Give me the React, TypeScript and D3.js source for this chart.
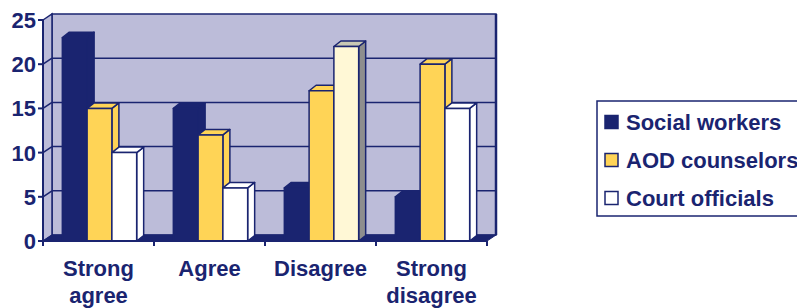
// App.tsx
import React from 'react';
import * as d3 from 'd3';

const categories = [['Strong', 'agree'], ['Agree'], ['Disagree'], ['Strong', 'disagree']];
const seriesNames = ['Social workers', 'AOD counselors', 'Court officials'];
const socialWorkers = [23, 15, 6, 5];
const aodCounselors = [15, 12, 17, 20];
const courtOfficials = [10, 6, 22, 15];
const yTicks = [0, 5, 10, 15, 20, 25];

const NAVY = '#1a2470';
const WALL = '#bcbcd9';
const FONT = '"Liberation Sans", Arial, sans-serif';

// fill colours for front / top / side of each series
const faces = [
  { front: NAVY, top: NAVY, side: NAVY },
  { front: '#ffd456', top: '#ffd456', side: '#ffd456' },
  { front: '#ffffff', top: '#ffffff', side: '#ffffff' },
];
// the highlighted (selected) point in the original chart
const highlight = { series: 2, cat: 2, front: '#fff8d6', top: '#c8c8b4', side: '#8e8e8e' };

function App() {
  const width = 797;
  const height = 308;
  const left = 43, right = 487, top = 20, bottom = 241;
  const wallDx = 9, wallDy = -6;
  const barDx = 7, barDy = -5.5;

  const values = [socialWorkers, aodCounselors, courtOfficials];
  const catKeys = categories.map(c => c.join(' '));

  const y = d3.scaleLinear().domain([0, 25]).range([bottom, top]);
  const x0 = d3.scaleBand<string>().domain(catKeys).range([left, right]).padding(0);
  const x1 = d3.scaleBand<string>().domain(seriesNames).range([1, x0.bandwidth() + 1])
    .paddingInner(0).paddingOuter(0.74);

  const pts = (p: number[][]) => p.map(d => d.join(',')).join(' ');

  const bl = left + wallDx, bt = top + wallDy, br = right + wallDx, bb = bottom + wallDy;

  return (
    <svg width={width} height={height} style={{ position: 'absolute', left: 0, top: 0 }}>
      {/* walls */}
      <polygon points={pts([[bl, bt], [br, bt], [br, bb], [bl, bb]])} fill={WALL} stroke={NAVY} strokeWidth={1.5} />
      <polygon points={pts([[left, top], [bl, bt], [bl, bb], [left, bottom]])} fill={WALL} stroke={NAVY} strokeWidth={1.5} />
      <line x1={br} x2={br} y1={bt} y2={bb} stroke={NAVY} strokeWidth={2.5} />
      {yTicks.filter(t => t > 0 && t < 25).map(t => (
        <g key={t}>
          <line x1={bl} x2={br} y1={y(t) + wallDy} y2={y(t) + wallDy} stroke={NAVY} strokeWidth={1.5} />
          <line x1={left} x2={bl} y1={y(t)} y2={y(t) + wallDy} stroke={NAVY} strokeWidth={1.5} />
        </g>
      ))}
      {/* floor */}
      <polygon points={pts([[left, bottom], [bl, bb], [br, bb], [right, bottom]])} fill={NAVY} stroke={NAVY} strokeWidth={1} />

      {/* bars */}
      {catKeys.map((c, ci) => (
        <g key={c}>
          {seriesNames.map((s, si) => {
            const v = values[si][ci];
            const xa = x0(c)! + x1(s)!;
            const xb = xa + x1.bandwidth();
            const yt = y(v);
            const isHi = highlight.series === si && highlight.cat === ci;
            const f = isHi ? highlight : faces[si];
            return (
              <g key={s} stroke={NAVY} strokeWidth={1.5} strokeLinejoin="round">
                <polygon points={pts([[xb, bottom], [xb + barDx, bottom + barDy], [xb + barDx, yt + barDy], [xb, yt]])} fill={f.side} />
                <polygon points={pts([[xa, yt], [xa + barDx, yt + barDy], [xb + barDx, yt + barDy], [xb, yt]])} fill={f.top} />
                <rect x={xa} y={yt} width={xb - xa} height={bottom - yt} fill={f.front} />
              </g>
            );
          })}
        </g>
      ))}

      {/* y axis */}
      <line x1={left} x2={left} y1={top} y2={bottom} stroke={NAVY} strokeWidth={2} />
      {yTicks.map(t => (
        <g key={t}>
          <line x1={left - 5} x2={left} y1={y(t)} y2={y(t)} stroke={NAVY} strokeWidth={2} />
          <text x={left - 7} y={y(t)} dy="0.36em" textAnchor="end" fill={NAVY}
            fontFamily={FONT} fontWeight="bold" fontSize={22}>{t}</text>
        </g>
      ))}

      {/* x axis */}
      <line x1={left} x2={right} y1={bottom} y2={bottom} stroke={NAVY} strokeWidth={2} />
      {[...catKeys.map(c => x0(c)!), right].map((xv, i) => (
        <line key={i} x1={xv} x2={xv} y1={bottom} y2={bottom + 5} stroke={NAVY} strokeWidth={2} />
      ))}
      {categories.map((lines, ci) => (
        <text key={ci} x={x0(catKeys[ci])! + x0.bandwidth() / 2} textAnchor="middle" fill={NAVY}
          fontFamily={FONT} fontWeight="bold" fontSize={22}>
          {lines.map((l, li) => (
            <tspan key={li} x={x0(catKeys[ci])! + x0.bandwidth() / 2} y={276 + li * 27}>{l}</tspan>
          ))}
        </text>
      ))}

      {/* legend */}
      <rect x={597} y={101} width={230} height={115} fill="none" stroke={NAVY} strokeWidth={1.5} />
      {seriesNames.map((s, i) => (
        <g key={s} transform={`translate(605,${122 + i * 38})`}>
          <rect x={0} y={-6.5} width={13} height={13} fill={faces[i].front} stroke={NAVY} strokeWidth={1.5} />
          <text x={21} y={0} dy="0.36em" fill={NAVY} fontFamily={FONT} fontWeight="bold" fontSize={22}>{s}</text>
        </g>
      ))}
    </svg>
  );
}

export default App;
